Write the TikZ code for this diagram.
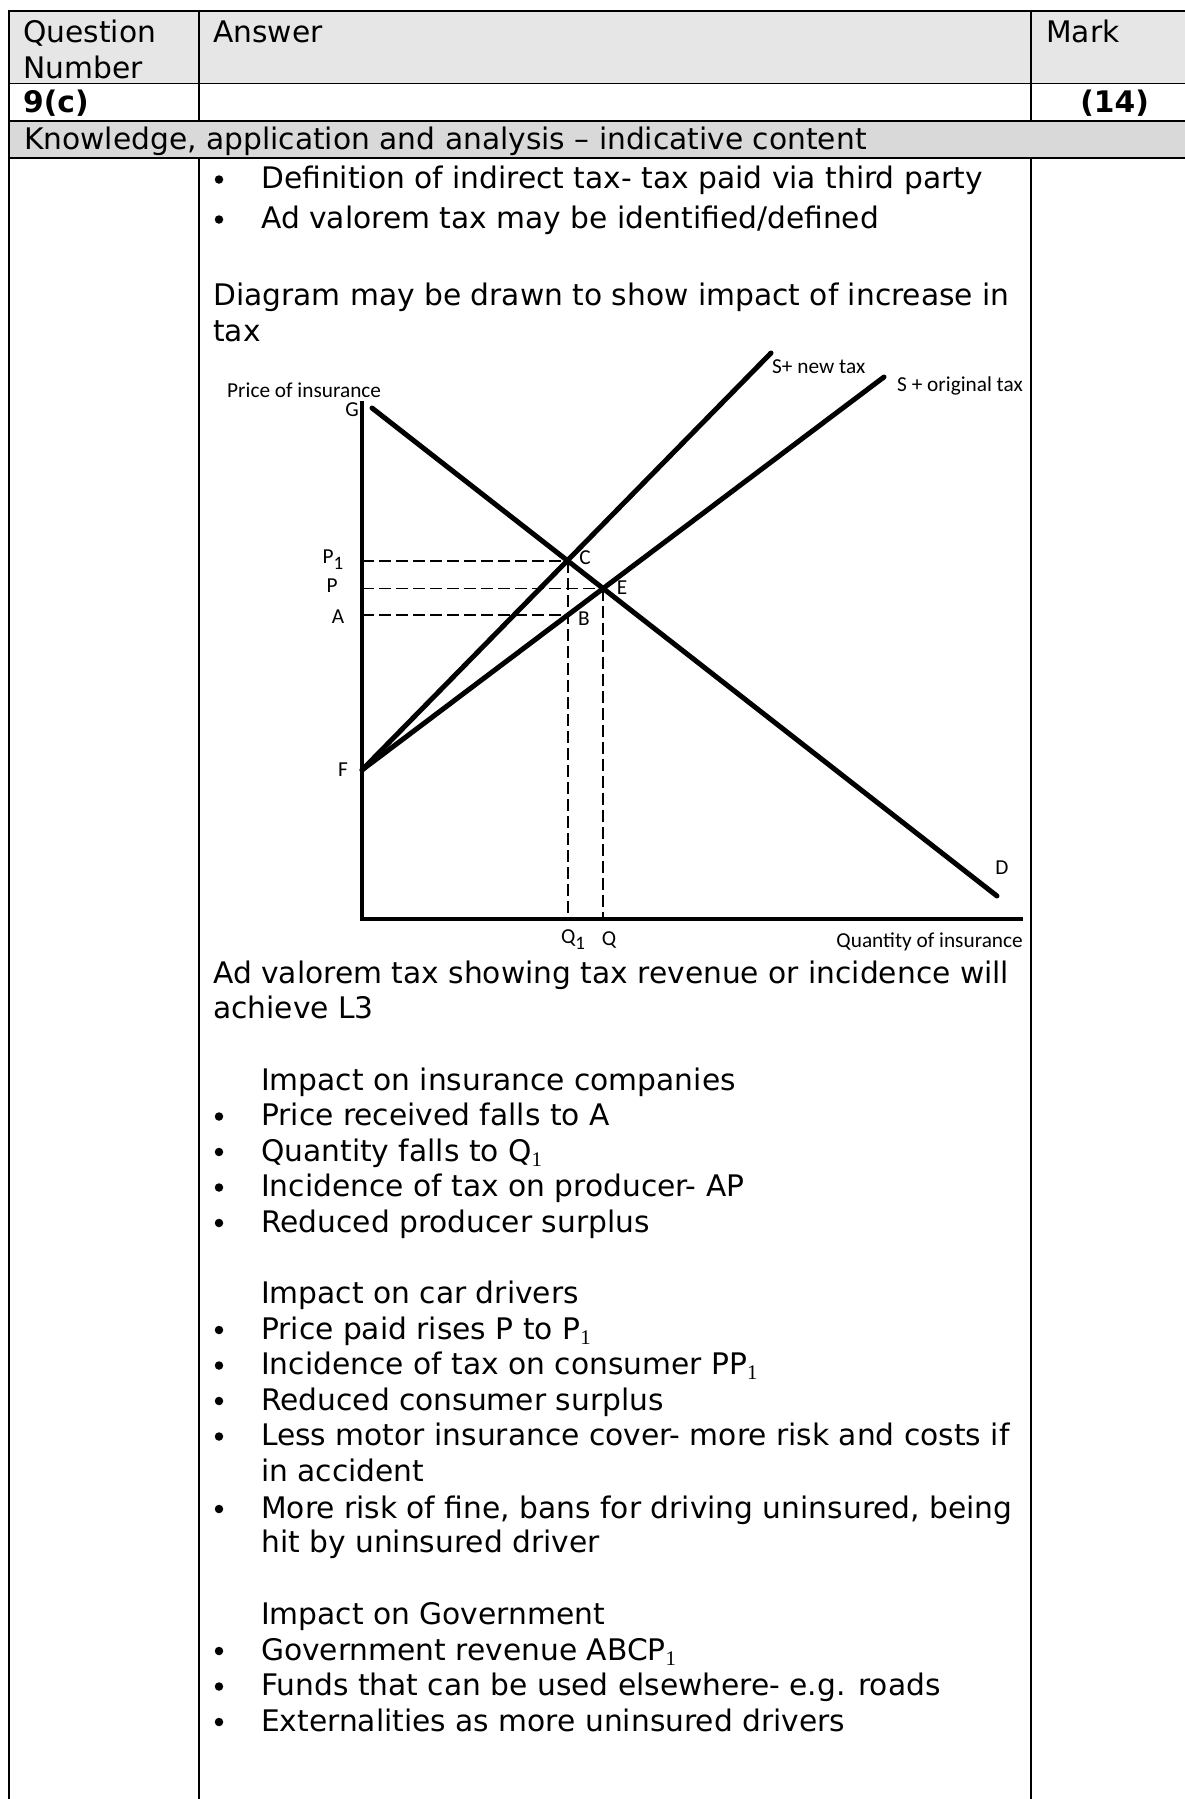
\documentclass[tikz,border=0pt]{standalone}
\usepackage{fontspec}
\setmainfont{DejaVu Sans}
\newfontfamily\calfont{Carlito}
\newfontfamily\subfont{Liberation Serif}
\newcommand{\sone}{\textsubscript{\subfont 1}}
\newcommand{\lone}{{\fontsize{19}{20}\selectfont\raisebox{-6pt}{1}}}
\definecolor{hdrgray}{HTML}{E6E6E6}
\definecolor{kngray}{HTML}{D9D9D9}
\begin{document}
\begin{tikzpicture}[x=1pt,y=-1pt,
  tbl/.style={line width=1.8pt, black},
  txt/.style={font=\fontsize{29.7}{35.5}\selectfont, anchor=base west, inner sep=0pt},
  btxt/.style={font=\fontsize{29.7}{35.5}\selectfont\bfseries, anchor=base west, inner sep=0pt},
  bul/.style={circle, fill=black, inner sep=0pt, minimum size=8.5pt},
  lbl/.style={font=\calfont\fontsize{21.3}{24}\selectfont, inner sep=0pt},
  curve/.style={line width=5pt, line cap=round},
  axisline/.style={line width=4.5pt},
  dsh/.style={line width=1.5pt, dash pattern=on 12pt off 5pt}]
\useasboundingbox (0,0) rectangle (1185,1799);
% table
\fill[hdrgray] (9,11) rectangle (1185,83.5);
\fill[kngray] (9,120.7) rectangle (1185,157.7);
\draw[tbl] (1186,11) -- (9,11) -- (9,1800);
\draw[tbl] (9,83.5) -- (1186,83.5);
\draw[tbl] (9,120.7) -- (1186,120.7);
\draw[tbl] (9,157.7) -- (1186,157.7);
\draw[tbl] (199,11) -- (199,120.7);
\draw[tbl] (199,157.7) -- (199,1800);
\draw[tbl] (1031,11) -- (1031,120.7);
\draw[tbl] (1031,157.7) -- (1031,1800);
% header texts
\node[txt] (hq) at (23,42.5) {Question};
\node[txt] (hn) at (23,78) {Number};
\node[txt] (ha) at (213,42.5) {Answer};
\node[txt] (hm) at (1046,42.5) {Mark};
\node[btxt] (qn) at (23,112) {9(c)};
\node[btxt, anchor=base east] (mk) at (1149,112) {(14)};
\node[txt] (kn) at (24,149.5) {Knowledge, application and analysis – indicative content};
% body
\node[bul] (b1) at (219,179.5) {};
\node[txt] (t1) at (261,188.5) {Definition of indirect tax- tax paid via third party};
\node[bul] (b2) at (219,219.5) {};
\node[txt] (t2) at (261,228.5) {Ad valorem tax may be identified/defined};
\node[txt] (t3) at (213,305.5) {Diagram may be drawn to show impact of increase in};
\node[txt] (t4) at (213,341) {tax};
% diagram
\coordinate (O) at (362,919);
\coordinate (Ytop) at (362,401);
\coordinate (Xend) at (1023,919);
\coordinate (F) at (362,770);
\coordinate (G) at (372,408);
\coordinate (D) at (997,896);
\coordinate (Snew) at (771,353);
\coordinate (Sorig) at (884,377);
\coordinate (C) at (568,561);
\coordinate (E) at (603.2,588.5);
\coordinate (B) at (568,615);
\coordinate (P1y) at (362,561);
\coordinate (Py) at (362,588.5);
\coordinate (Ay) at (362,615);
\coordinate (Q1x) at (568,919);
\coordinate (Qx) at (603.2,919);
\draw[dsh] (P1y) -- (C);
\draw[dsh] (Py) -- (E);
\draw[dsh] (Ay) -- (B);
\draw[dsh] (C) -- (Q1x);
\draw[dsh] (E) -- (Qx);
\draw[axisline] (Ytop) -- (O) -- (Xend);
\draw[curve] (G) -- (D);
\draw[curve] (F) -- (Snew);
\draw[curve] (F) -- (Sorig);
\node[lbl, anchor=west] (lp) at (227,390) {Price of insurance};
\node[lbl] (lg) at (352,410) {G};
\node[lbl] (lp1) at (333,560) {P\lone};
\node[lbl] (lpp) at (332,586) {P};
\node[lbl] (la) at (338,617) {A};
\node[lbl] (lf) at (343,770) {F};
\node[lbl] (lc) at (585,558) {C};
\node[lbl] (le) at (622,588) {E};
\node[lbl] (lb) at (584,619) {B};
\node[lbl, anchor=west] (lsn) at (772,367) {S+ new tax};
\node[lbl, anchor=west] (lso) at (897,386) {S + original tax};
\node[lbl] (ld) at (1002,868) {D};
\node[lbl] (lq1) at (573,940) {Q\lone};
\node[lbl] (lq) at (609,940) {Q};
\node[lbl, anchor=east] (lx) at (1023,942) {Quantity of insurance};
% text below diagram
\node[txt] (t5) at (213,983.5) {Ad valorem tax showing tax revenue or incidence will};
\node[txt] (t6) at (213,1018.5) {achieve L3};
\node[txt] (h1) at (261,1090) {Impact on insurance companies};
\node[bul] (b3) at (219,1116.5) {};
\node[txt] (t7) at (261,1125.5) {Price received falls to A};
\node[bul] (b4) at (219,1152) {};
\node[txt] (t8) at (261,1161) {Quantity falls to Q\sone};
\node[bul] (b5) at (219,1187.5) {};
\node[txt] (t9) at (261,1196.5) {Incidence of tax on producer- AP};
\node[bul] (b6) at (219,1223) {};
\node[txt] (t10) at (261,1232) {Reduced producer surplus};
\node[txt] (h2) at (261,1303.5) {Impact on car drivers};
\node[bul] (b7) at (219,1330) {};
\node[txt] (t11) at (261,1339) {Price paid rises P to P\sone};
\node[bul] (b8) at (219,1365.5) {};
\node[txt] (t12) at (261,1374.5) {Incidence of tax on consumer PP\sone};
\node[bul] (b9) at (219,1401) {};
\node[txt] (t13) at (261,1410) {Reduced consumer surplus};
\node[bul] (b10) at (219,1436.5) {};
\node[txt] (t14) at (261,1445.5) {Less motor insurance cover- more risk and costs if};
\node[txt] (t15) at (261,1481) {in accident};
\node[bul] (b11) at (219,1509) {};
\node[txt] (t16) at (261,1518) {More risk of fine, bans for driving uninsured, being};
\node[txt] (t17) at (261,1552) {hit by uninsured driver};
\node[txt] (h3) at (261,1624.5) {Impact on Government};
\node[bul] (b12) at (219,1651) {};
\node[txt] (t18) at (261,1660) {Government revenue ABCP\sone};
\node[bul] (b13) at (219,1686.5) {};
\node[txt] (t19) at (261,1695.5) {Funds that can be used elsewhere- e.g. roads};
\node[bul] (b14) at (219,1722) {};
\node[txt] (t20) at (261,1731) {Externalities as more uninsured drivers};
\end{tikzpicture}
\end{document}
